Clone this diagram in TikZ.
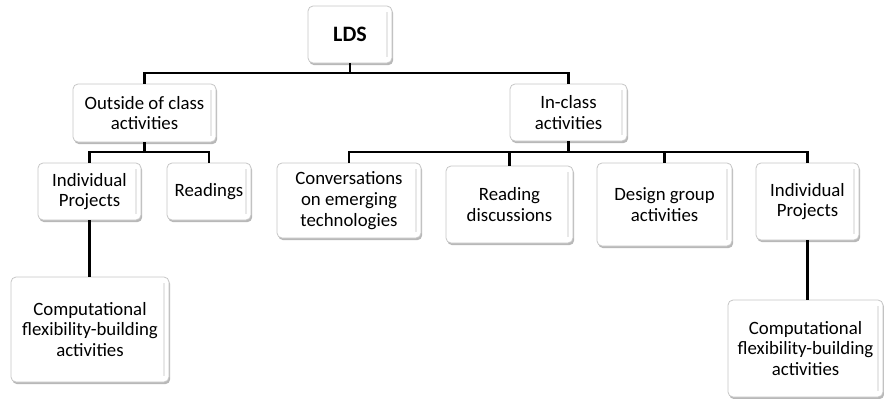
\documentclass[tikz,border=0pt]{standalone}
\usepackage{fontspec}
\setmainfont{Carlito}
\usetikzlibrary{shadows}
\begin{document}
\begin{tikzpicture}[x=1pt,y=-1pt,
  box/.style={draw=gray!45, line width=0.8pt, rounded corners=5pt, fill=white,
    align=center, inner sep=0pt, font=\fontsize{18.8}{20.8}\selectfont,
    drop shadow={shadow xshift=1.2pt, shadow yshift=-2.2pt, fill=gray!70, opacity=0.8},
    path picture={\draw[gray!18, line width=1.6pt]
      ([xshift=-5pt,yshift=-6pt]path picture bounding box.north east) --
      ([xshift=-5pt,yshift=6pt]path picture bounding box.south east);}},
  conn/.style={draw=black, line width=2.4pt}]
\useasboundingbox (0,0) rectangle (884,399);
% top level
\node[box, minimum width=84pt, minimum height=57pt, font=\fontsize{22}{24}\selectfont\bfseries] (lds) at (350,34.5) {LDS};
% second level
\node[box, minimum width=143pt, minimum height=58pt] (outside) at (144.5,113) {Outside of class\\activities};
\node[box, minimum width=117pt, minimum height=57pt] (inclass) at (568.5,112.5) {In-class\\activities};
% outside-of-class branch
\node[box, minimum width=103pt, minimum height=57pt] (indA) at (89.5,191.5) {Individual\\Projects};
\node[box, minimum width=84pt, minimum height=57pt] (read) at (209,191.5) {Readings};
\node[box, minimum width=158pt, minimum height=105pt] (compA) at (90,329.5) {Computational\\flexibility-building\\activities};
% in-class branch
\node[box, minimum width=144pt, minimum height=75pt] (conv) at (349,200.5) {Conversations\\on emerging\\technologies};
\node[box, minimum width=127pt, minimum height=77pt] (disc) at (509.5,204.5) {Reading\\discussions};
\node[box, minimum width=135pt, minimum height=83pt] (design) at (664.5,204.5) {Design group\\activities};
\node[box, minimum width=103pt, minimum height=77pt] (indB) at (807.5,201.5) {Individual\\Projects};
\node[box, minimum width=155pt, minimum height=97pt] (compB) at (805.5,348.5) {Computational\\flexibility-building\\activities};
% bus points
\coordinate (b0) at (350,73);
\coordinate (b1) at (144.5,152);
\coordinate (b2) at (568.5,152);
% connectors
\draw[conn] (lds.south) -- (b0);
\draw[conn] (outside.north) |- (b0) -| (inclass.north);
\draw[conn] (outside.south) -- (b1);
\draw[conn] (indA.north) |- (b1) -| (read.north);
\draw[conn] (indA.south) -- (indA.south |- compA.north);
\draw[conn] (inclass.south) -- (b2);
\draw[conn] (conv.north) |- (b2) -| (indB.north);
\draw[conn] (disc.north) -- (disc.north |- b2);
\draw[conn] (design.north) -- (design.north |- b2);
\draw[conn] (indB.south) -- (indB.south |- compB.north);
\end{tikzpicture}
\end{document}
